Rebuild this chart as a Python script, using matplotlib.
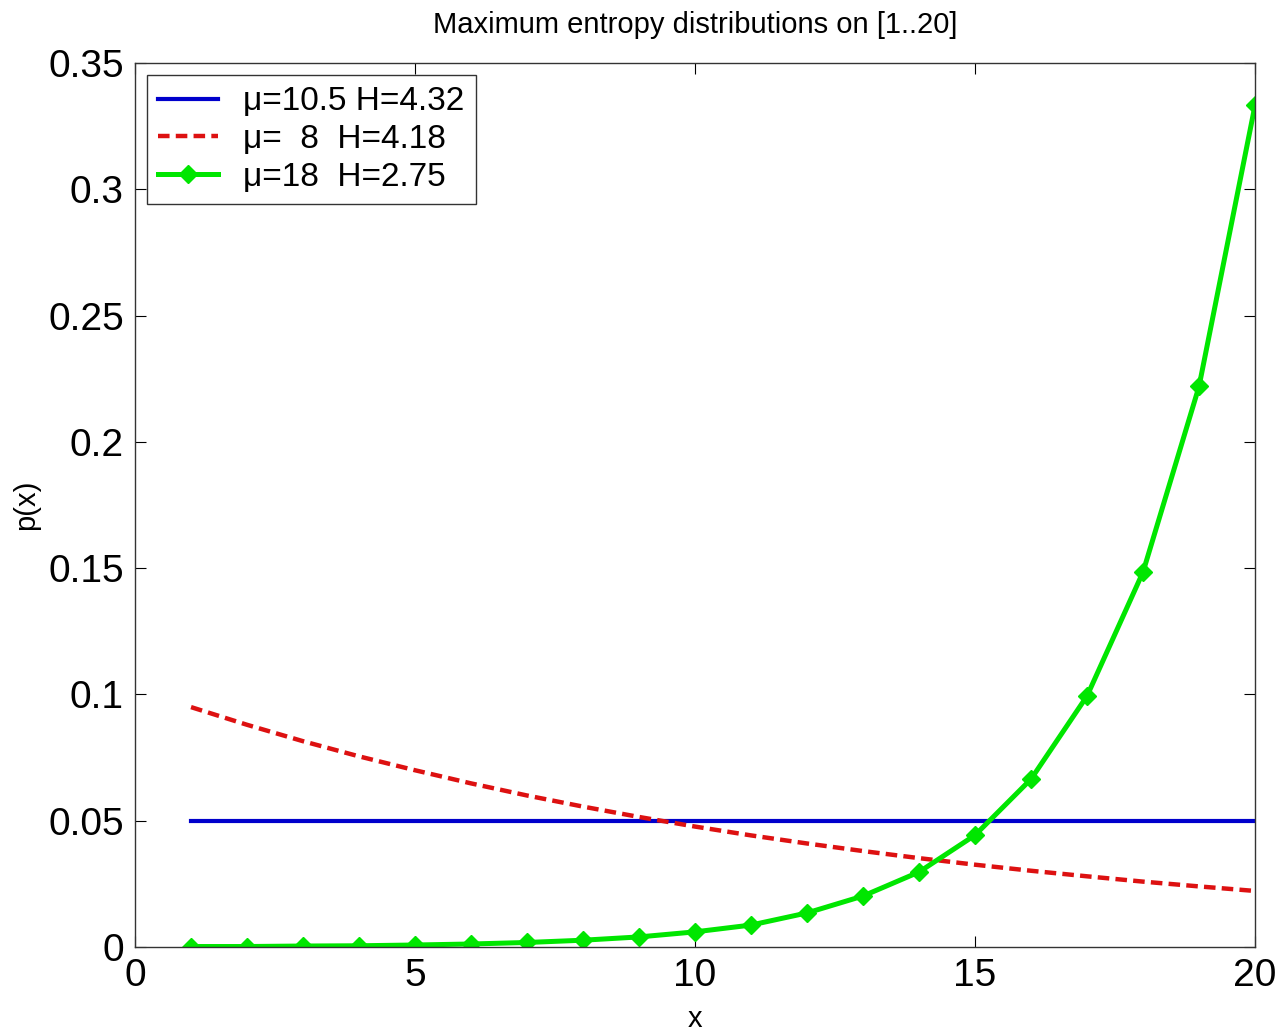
import numpy as np
import matplotlib
matplotlib.use("Agg")
import matplotlib.pyplot as plt

plt.rcParams['font.family'] = ['Liberation Sans', 'DejaVu Sans']

x = np.arange(1, 21)
p_uniform = [0.05] * 20
p_mu8 = [0.095, 0.088, 0.0815, 0.0755, 0.070, 0.0648, 0.060, 0.0556, 0.0515, 0.0477,
         0.0442, 0.041, 0.038, 0.0352, 0.0326, 0.0302, 0.028, 0.0259, 0.024, 0.0222]
p_mu18 = [0.0002, 0.0002, 0.0004, 0.0005, 0.0008, 0.0012, 0.0018, 0.0027, 0.004, 0.006,
          0.0087, 0.0135, 0.0202, 0.0297, 0.0443, 0.0665, 0.0994, 0.1485, 0.222, 0.3333]
labels = ['\u03bc=10.5 H=4.32', '\u03bc=  8  H=4.18', '\u03bc=18  H=2.75']

fig = plt.figure(figsize=(12.8, 10.35), dpi=100)
ax = fig.add_axes([0.1055, 0.085, 0.875, 0.854])

ax.plot(x, p_uniform, color='#0000cc', lw=3.0, label=labels[0])
ax.plot(x, p_mu8, color='#dd1111', lw=3.2, ls=(0, (2.6, 1.4)), label=labels[1])
ax.plot(x, p_mu18, color='#00e600', lw=3.6, marker='D', ms=9, label=labels[2])

ax.set_xlim(0, 20)
ax.set_ylim(0, 0.35)
ax.set_xticks([0, 5, 10, 15, 20])
ax.set_yticks(np.arange(0, 0.36, 0.05))
ax.set_yticklabels(['0', '0.05', '0.1', '0.15', '0.2', '0.25', '0.3', '0.35'])
ax.tick_params(direction='in', length=8, top=True, right=True, labelsize=28, pad=8)
for s in ax.spines.values():
    s.set_linewidth(1.0)
    s.set_color('#333333')

ax.set_title('Maximum entropy distributions on [1..20]', fontsize=21, pad=22)
ax.set_xlabel('x', fontsize=21, labelpad=8)
ax.set_ylabel('p(x)', fontsize=21, labelpad=6)

leg = ax.legend(loc='upper left', fontsize=24, frameon=True, fancybox=False,
                handlelength=1.8, borderaxespad=0.35, labelspacing=0.2,
                handletextpad=0.75, borderpad=0.35)
leg.get_frame().set_edgecolor('black')
leg.get_frame().set_linewidth(1.0)

fig.savefig('out.png', dpi=100)
